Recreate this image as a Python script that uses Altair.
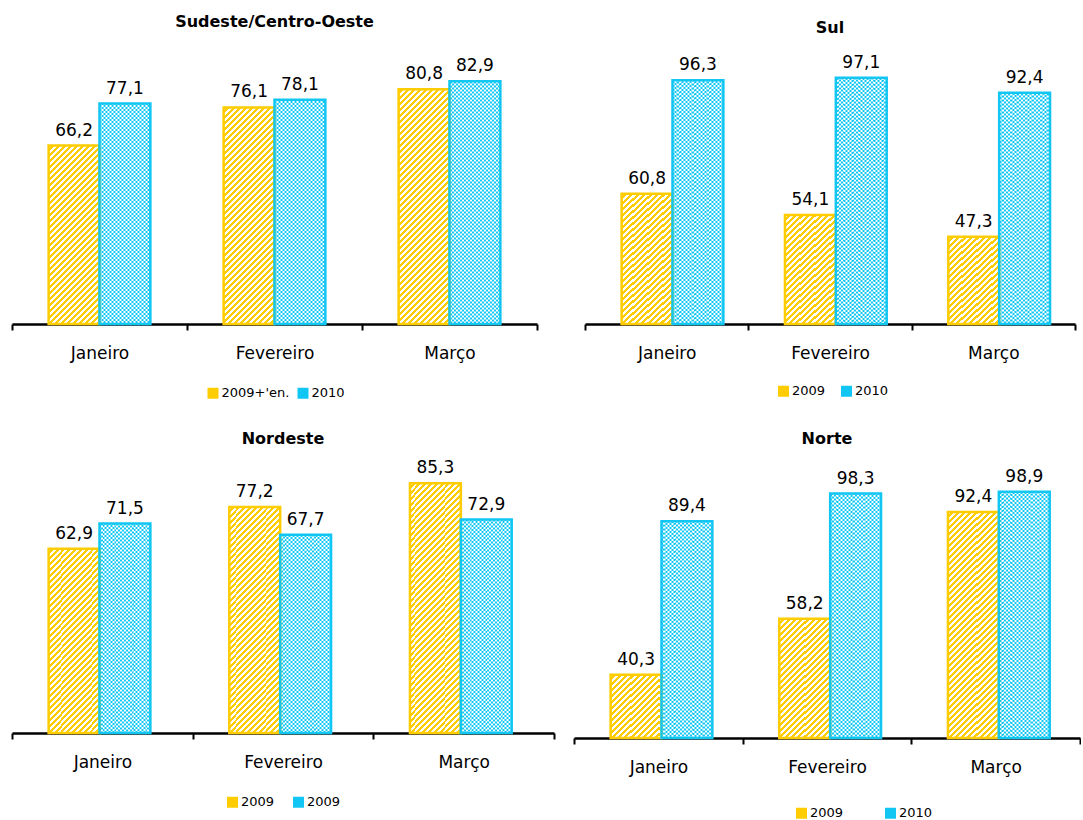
import json
import altair as alt
import pandas as pd

FONT = "DejaVu Sans"
YELLOW = "#FFCC00"
CYAN = "#12C6F3"
WHITE = "#FFFFFF"

months = ["Janeiro", "Fevereiro", "Março"]
years = ["2009", "2010"]

titles = ["Sudeste/Centro-Oeste", "Sul", "Nordeste", "Norte"]
se_2009 = [66.2, 76.1, 80.8]
se_2010 = [77.1, 78.1, 82.9]
sul_2009 = [60.8, 54.1, 47.3]
sul_2010 = [96.3, 97.1, 92.4]
ne_2009 = [62.9, 77.2, 85.3]
ne_2010 = [71.5, 67.7, 72.9]
no_2009 = [40.3, 58.2, 92.4]
no_2010 = [89.4, 98.3, 98.9]

legend_se = ["2009+'en.", "2010"]
legend_sul = ["2009", "2010"]
legend_ne = ["2009", "2009"]
legend_no = ["2009", "2010"]

PO = 0.72  # outer padding of the bar pair inside each month band


def stripes(w, h, period, frac, col_a, col_b, direction):
    L = w + h
    p = period / L
    stops = []
    off = 0.0
    while off < 1.0 - 1e-9:
        b = min(off + frac * p, 1.0)
        c = min(off + p, 1.0)
        stops += [(off, col_a), (b, col_a), (b, col_b), (c, col_b)]
        off += p
    k = (w + h) * w / (w * w + h * h)
    if direction == "/":
        x1, y1, x2, y2 = 0, 0, k, k * h / w
    else:
        x1, y1, x2, y2 = 0, 1, k, 1 - k * h / w
    return {
        "gradient": "linear",
        "x1": round(x1, 5), "y1": round(y1, 5),
        "x2": round(x2, 5), "y2": round(y2, 5),
        "stops": [{"offset": round(o, 5), "color": col} for o, col in stops],
    }


def panel(title, v09, v10, labels, width, height, ymin, ymax,
          t_offset, legend_x, legend_y, legend_gap):
    df = pd.DataFrame({
        "month": months * 2,
        "year": ["2009"] * 3 + ["2010"] * 3,
        "value": v09 + v10,
    })
    df["label"] = df["value"].map(lambda v: f"{v:.1f}".replace(".", ","))

    band = width / 3
    bar_w = band / (2 + 2 * PO)
    ppu = height / (ymax - ymin)
    c1, c2 = [], []
    for m, yr, v in zip(df["month"], df["year"], df["value"]):
        h = (v - ymin) * ppu
        test = f"datum.month === '{m}' && datum.year === '{yr}'"
        if yr == "2009":
            c1.append({"test": test, "value": stripes(bar_w, h, 6.0, 0.5, WHITE, YELLOW, "/")})
        else:
            c1.append({"test": test, "value": stripes(bar_w, h, 4.0, 0.5, WHITE, CYAN, "/")})
            c2.append({"test": test, "value": stripes(bar_w, h, 4.0, 0.5, WHITE, CYAN, "\\")})

    x = alt.X("month:N", sort=months,
              scale=alt.Scale(paddingInner=0, paddingOuter=0),
              axis=alt.Axis(title=None, domainColor="black", domainWidth=2.5,
                            tickColor="black", tickWidth=2, tickSize=6,
                            tickBand="extent", labelFont=FONT, labelFontSize=17,
                            labelColor="black", labelPadding=15, labelAngle=0,
                            grid=False))
    xo = alt.XOffset("year:N", sort=years,
                     scale=alt.Scale(paddingInner=0, paddingOuter=PO))
    y = alt.Y("value:Q", scale=alt.Scale(domain=[ymin, ymax], nice=False, zero=False),
              axis=None)
    y2 = alt.datum(ymin)

    label_expr = f"datum.label === '2009' ? {json.dumps(labels[0])} : {json.dumps(labels[1])}"

    base = alt.Chart(df).mark_bar(strokeWidth=0).encode(
        x=x, xOffset=xo, y=y, y2=y2,
        color=alt.Color("year:N", sort=years,
                        scale=alt.Scale(domain=years, range=[YELLOW, CYAN]),
                        legend=alt.Legend(title=None, orient="none",
                                          legendX=legend_x, legendY=legend_y,
                                          direction="horizontal", symbolType="square",
                                          symbolSize=121, symbolStrokeWidth=0,
                                          labelFont=FONT, labelFontSize=13,
                                          labelColor="black", labelOffset=2,
                                          columnPadding=legend_gap, padding=0,
                                          labelExpr=label_expr)),
    )
    over1 = alt.Chart(df).mark_bar(strokeWidth=0).encode(
        x=x, xOffset=xo, y=y, y2=y2,
        fill={"value": "transparent", "condition": c1},
    )
    over2 = alt.Chart(df).mark_bar(strokeWidth=0, opacity=0.5).encode(
        x=x, xOffset=xo, y=y, y2=y2,
        fill={"value": "transparent", "condition": c2},
    )
    outline = alt.Chart(df).mark_bar(fillOpacity=0, strokeWidth=2.5).encode(
        x=x, xOffset=xo, y=y, y2=y2,
        stroke=alt.Stroke("year:N", sort=years,
                          scale=alt.Scale(domain=years, range=[YELLOW, CYAN]),
                          legend=None),
    )
    text = alt.Chart(df).mark_text(baseline="alphabetic", dy=-10, fontSize=17,
                                   font=FONT, color="black").encode(
        x=x, xOffset=xo, y=y, text="label:N",
    )
    return alt.layer(base, over1, over2, outline, text).properties(
        width=width, height=height,
        title=alt.TitleParams(text=title, font=FONT, fontSize=16, fontWeight="bold",
                              color="black", offset=t_offset, anchor="middle",
                              frame="group", lineHeight=6),
    )


p1 = panel(titles[0], se_2009, se_2010, legend_se, 525, 278, 20, 92,
           16, 194.5, 340.5, 7)
p2 = panel(["", titles[1]], sul_2009, sul_2010, legend_sul, 490, 278, 20, 107,
           10, 192, 338.5, 14)
p3 = panel(titles[2], ne_2009, ne_2010, legend_ne, 542, 275, 0, 93.9,
           11, 214, 337.5, 17)
p4 = panel(titles[3], no_2009, no_2010, legend_no, 506, 280, 20, 109.7,
           11, 221, 348.5, 40)

row1 = alt.hconcat(p1, p2, spacing=46).resolve_scale(
    color="independent", stroke="independent").resolve_legend(color="independent")
row2 = alt.hconcat(p3, p4, spacing=18).resolve_scale(
    color="independent", stroke="independent").resolve_legend(color="independent")

chart = alt.vconcat(row1, row2, spacing=30).resolve_scale(
    color="independent", stroke="independent").resolve_legend(
    color="independent").properties(
    padding={"left": 11, "top": 14, "right": 0, "bottom": 0},
    background="white",
).configure_view(stroke="transparent", strokeWidth=0).configure(
    font=FONT, style={"cell": {"stroke": "transparent", "strokeWidth": 0}})

chart.save("out.html", embed_options={"renderer": "svg", "actions": False})
